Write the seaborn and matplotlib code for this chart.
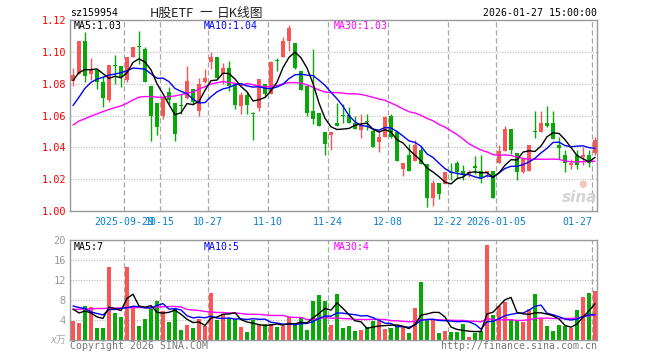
import numpy as np
import pandas as pd
import matplotlib
matplotlib.use("Agg")
import matplotlib.pyplot as plt
import seaborn as sns

sns.set_theme(style="white")
plt.rcParams["font.family"] = ["DejaVu Sans Mono", "Noto Sans CJK SC"]

# ---------------- data ----------------
opens = [1.0815, 1.0860, 1.1065, 1.0860, 1.0885, 1.0808, 1.0700, 1.0917, 1.0908, 1.0825,
         1.0965, 1.1035, 1.1017, 1.0783, 1.0677, 1.0600, 1.0746, 1.0677, 1.0665, 1.0708,
         1.0767, 1.0631, 1.0808, 1.0938, 1.0965, 1.0860, 1.0896, 1.0792, 1.0658, 1.0731,
         1.0615, 1.0648, 1.0798, 1.0735, 1.0946, 1.0965, 1.1069, 1.1058, 1.0881, 1.0783,
         1.0631, 1.0615, 1.0496, 1.0475, 1.0552, 1.0596, 1.0600, 1.0552, 1.0506, 1.0563,
         1.0500, 1.0433, 1.0465, 1.0600, 1.0496, 1.0263, 1.0354, 1.0315, 1.0381, 1.0298,
         1.0079, 1.0179, 1.0169, 1.0248, 1.0304, 1.0252, 1.0235, 1.0277, 1.0252, 1.0240,
         1.0252, 1.0304, 1.0377, 1.0517, 1.0365, 1.0246, 1.0252, 1.0502, 1.0496, 1.0552,
         1.0552, 1.0417, 1.0350, 1.0288, 1.0350, 1.0342, 1.0350, 1.0365]
highs = [1.0898, 1.1067, 1.1127, 1.0960, 1.0888, 1.0850, 1.0917, 1.0980, 1.0908, 1.0965,
         1.1033, 1.1130, 1.1033, 1.0783, 1.0677, 1.0715, 1.0777, 1.0677, 1.0735, 1.0913,
         1.0767, 1.0835, 1.0890, 1.1000, 1.0965, 1.0927, 1.0944, 1.0792, 1.0746, 1.0746,
         1.0621, 1.0827, 1.0798, 1.0944, 1.0960, 1.1096, 1.1169, 1.1058, 1.0881, 1.0783,
         1.1015, 1.0615, 1.0496, 1.0496, 1.0677, 1.0673, 1.0656, 1.0600, 1.0610, 1.0610,
         1.0520, 1.0496, 1.0596, 1.0610, 1.0496, 1.0304, 1.0423, 1.0444, 1.0402, 1.0298,
         1.0194, 1.0179, 1.0248, 1.0304, 1.0313, 1.0288, 1.0260, 1.0346, 1.0350, 1.0252,
         1.0252, 1.0417, 1.0533, 1.0517, 1.0365, 1.0329, 1.0417, 1.0627, 1.0627, 1.0662,
         1.0631, 1.0465, 1.0381, 1.0329, 1.0381, 1.0400, 1.0381, 1.0465]
lows = [1.0788, 1.0858, 1.0808, 1.0823, 1.0767, 1.0652, 1.0683, 1.0798, 1.0777, 1.0810,
        1.0965, 1.0923, 1.0808, 1.0440, 1.0480, 1.0580, 1.0673, 1.0440, 1.0610, 1.0704,
        1.0663, 1.0594, 1.0804, 1.0892, 1.0835, 1.0798, 1.0756, 1.0642, 1.0610, 1.0610,
        1.0448, 1.0627, 1.0715, 1.0735, 1.0881, 1.0965, 1.1006, 1.0892, 1.0763, 1.0596,
        1.0548, 1.0533, 1.0350, 1.0381, 1.0533, 1.0552, 1.0552, 1.0517, 1.0460, 1.0506,
        1.0402, 1.0371, 1.0465, 1.0460, 1.0315, 1.0221, 1.0252, 1.0315, 1.0298, 1.0027,
        1.0033, 1.0073, 1.0169, 1.0194, 1.0198, 1.0194, 1.0215, 1.0235, 1.0179, 1.0215,
        1.0079, 1.0304, 1.0377, 1.0360, 1.0194, 1.0240, 1.0252, 1.0460, 1.0496, 1.0530,
        1.0454, 1.0329, 1.0246, 1.0263, 1.0263, 1.0288, 1.0277, 1.0350]
closes = [1.0856, 1.1065, 1.0846, 1.0888, 1.0808, 1.0708, 1.0917, 1.0912, 1.0840, 1.0965,
          1.1033, 1.1032, 1.0808, 1.0596, 1.0527, 1.0715, 1.0698, 1.0485, 1.0662, 1.0815,
          1.0683, 1.0798, 1.0833, 1.0965, 1.0835, 1.0896, 1.0788, 1.0663, 1.0729, 1.0669,
          1.0607, 1.0827, 1.0735, 1.0938, 1.0940, 1.1065, 1.1148, 1.0898, 1.0763, 1.0617,
          1.0579, 1.0533, 1.0419, 1.0496, 1.0533, 1.0594, 1.0552, 1.0517, 1.0538, 1.0560,
          1.0402, 1.0465, 1.0590, 1.0465, 1.0315, 1.0304, 1.0252, 1.0417, 1.0298, 1.0079,
          1.0179, 1.0104, 1.0248, 1.0240, 1.0246, 1.0229, 1.0244, 1.0273, 1.0208, 1.0252,
          1.0083, 1.0377, 1.0517, 1.0381, 1.0246, 1.0329, 1.0417, 1.0498, 1.0552, 1.0535,
          1.0454, 1.0396, 1.0304, 1.0304, 1.0288, 1.0346, 1.0304, 1.0444]
# 1 = red (up day), 0 = green (down day)
up_flags = [1, 1, 0, 1, 0, 0, 1, 0, 0, 1, 1, 0, 0, 0, 0, 1, 0, 0, 0, 1,
            0, 1, 1, 1, 0, 1, 0, 0, 1, 0, 0, 1, 0, 1, 0, 1, 1, 0, 0, 0,
            0, 0, 0, 1, 0, 0, 0, 0, 1, 0, 0, 1, 1, 0, 0, 1, 0, 1, 0, 0,
            1, 0, 1, 0, 0, 0, 1, 0, 0, 1, 0, 1, 1, 0, 0, 1, 1, 0, 1, 0,
            0, 0, 0, 1, 0, 1, 0, 1]
volumes = [3.9, 3.4, 6.8, 6.6, 2.4, 2.4, 14.6, 5.4, 4.6, 14.6,
           6.6, 2.8, 4.2, 6.2, 7.9, 5.8, 3.6, 6.4, 2.0, 3.0,
           2.4, 4.2, 2.9, 9.5, 4.0, 5.2, 4.4, 4.2, 2.6, 1.6,
           4.0, 3.0, 3.2, 3.2, 2.6, 2.9, 4.6, 3.0, 4.6, 2.0,
           7.9, 9.1, 7.9, 3.0, 9.2, 2.4, 2.8, 1.8, 2.0, 2.6,
           3.8, 3.8, 2.2, 2.4, 2.8, 2.6, 1.4, 6.4, 11.6, 4.0,
           4.2, 1.4, 1.8, 1.6, 1.6, 3.2, 0.6, 1.4, 1.8, 19.0,
           5.0, 6.8, 7.6, 4.2, 4.0, 3.6, 6.2, 9.2, 4.2, 2.8,
           1.8, 3.0, 2.8, 2.4, 6.0, 8.6, 9.4, 9.8]

# moving-average values at the left edge (they depend on days before the window)
ma5_head = [1.0820, 1.0870, 1.0888, 1.0888]
ma10_head = [1.0663, 1.0715, 1.0771, 1.0808, 1.0829, 1.0840, 1.0854, 1.0860, 1.0870]
ma30_head = [1.0540, 1.0565, 1.0580, 1.0596, 1.0610, 1.0625, 1.0638, 1.0650, 1.0660, 1.0677,
             1.0698, 1.0715, 1.0719, 1.0719, 1.0715, 1.0715, 1.0719, 1.0723, 1.0731, 1.0740,
             1.0748, 1.0767, 1.0781, 1.0798, 1.0806, 1.0813, 1.0808, 1.0802, 1.0788]
vma5_head = [6.2, 5.4, 5.8, 5.4]
vma10_head = [6.8, 6.5, 6.3, 5.6, 5.3, 5.0, 6.1, 6.1, 6.3]
vma30_head = [6.1, 6.15, 6.2, 6.25, 6.3, 6.3, 6.35, 6.4, 6.4, 6.45,
              6.45, 6.5, 6.5, 6.55, 6.6, 6.65, 6.7, 6.7, 6.6, 6.1,
              6.0, 5.9, 5.7, 5.6, 5.5, 5.5, 5.4, 5.4, 5.3]

tick_idx = [9, 15, 23, 33, 43, 53, 63, 71, 87]
tick_labels = ["2025-09-29", "10-15", "10-27", "11-10", "11-24",
               "12-08", "12-22", "2026-01-05", "01-27"]
price_ticks = [1.00, 1.02, 1.04, 1.06, 1.08, 1.10, 1.12]
vol_ticks = [4, 8, 12, 16, 20]

# ---------------- derived ----------------
n = len(closes)
idx = np.arange(n)
o = np.array(opens); c = np.array(closes); hi = np.array(highs); lo = np.array(lows)
up = np.array(up_flags).astype(bool)

def moving(vals, win, head):
    m = pd.Series(vals).rolling(win).mean().to_numpy()
    m[:len(head)] = head
    return m

ma5 = moving(closes, 5, ma5_head)
ma10 = moving(closes, 10, ma10_head)
ma30 = moving(closes, 30, ma30_head)
vma5 = moving(volumes, 5, vma5_head)
vma10 = moving(volumes, 10, vma10_head)
vma30 = moving(volumes, 30, vma30_head)

RED = "#fa5555"
GREEN = "#08a808"
GRID = "#a8a8a8"
FRAME = "#999999"

W, H = 660, 360
fig = plt.figure(figsize=(6.6, 3.6), dpi=100)
fig.patch.set_facecolor("white")

def fx(x): return x / W
def fy(y): return 1 - y / H

L, R = 70, 597
axp = fig.add_axes([fx(L), fy(211), (R - L) / W, (211 - 20) / H])
axv = fig.add_axes([fx(L), fy(340), (R - L) / W, (340 - 240) / H])
xlim = (-0.5, (R - L) / 6 - 0.5)
BW = 0.8

FS = 7.1
# ---- price panel ----
axp.set_xlim(*xlim)
axp.set_ylim(1.00, 1.12)
for v in price_ticks[1:-1]:
    axp.axhline(v, color=GRID, lw=0.8, ls=(0, (0.8, 1.6)), zorder=0)
for t_ in tick_idx:
    axp.axvline(t_ - 0.5, color=GRID, lw=0.9, ls=(0, (4.2, 2.2)), zorder=0)

cols = np.where(up, RED, GREEN)
axp.vlines(idx, lo, hi, colors=cols, lw=1.0, zorder=2)
body_lo = np.minimum(o, c)
body_h = np.maximum(np.abs(c - o), 0.0007)
axp.bar(idx, body_h, bottom=body_lo, width=BW, color=cols, zorder=3, linewidth=0)

sns.lineplot(x=idx, y=ma30, color="#ff00ff", lw=1.0, ax=axp, zorder=4, estimator=None)
sns.lineplot(x=idx, y=ma10, color="#0000ff", lw=1.0, ax=axp, zorder=5, estimator=None)
sns.lineplot(x=idx, y=ma5, color="black", lw=1.0, ax=axp, zorder=6, estimator=None)

axp.set_xlim(*xlim)
axp.set_ylim(1.00, 1.12)
axp.set_yticks(price_ticks)
axp.set_yticklabels([f"{v:.2f}" for v in price_ticks], color="#ff0000", fontsize=FS + 0.3)
axp.set_xticks([t_ - 0.5 for t_ in tick_idx])
axp.set_xticklabels(tick_labels, color="#0a7fd0", fontsize=FS)
axp.get_xticklabels()[-1].set_horizontalalignment("right")
axp.tick_params(axis="both", length=0, pad=3)
axp.tick_params(axis="x", pad=4)
axp.set_xlabel(""); axp.set_ylabel("")
for s in axp.spines.values():
    s.set_color(FRAME); s.set_linewidth(1.0)

# ---- volume panel ----
axv.set_xlim(*xlim)
for v in vol_ticks[:-1]:
    axv.axhline(v, color=GRID, lw=0.8, ls=(0, (0.8, 1.6)), zorder=0)
for t_ in tick_idx:
    axv.axvline(t_ - 0.5, color=GRID, lw=0.9, ls=(0, (4.2, 2.2)), zorder=0)
axv.bar(idx, volumes, width=BW, color=cols, zorder=2, linewidth=0)
sns.lineplot(x=idx, y=vma30, color="#ff00ff", lw=1.0, ax=axv, zorder=4, estimator=None)
sns.lineplot(x=idx, y=vma10, color="#0000ff", lw=1.0, ax=axv, zorder=5, estimator=None)
sns.lineplot(x=idx, y=vma5, color="black", lw=1.0, ax=axv, zorder=6, estimator=None)
axv.set_xlim(*xlim)
axv.set_ylim(0, 20)
axv.set_yticks(vol_ticks)
axv.set_yticklabels([str(v) for v in vol_ticks], color="#9a9a9a", fontsize=FS + 0.4)
axv.set_xticks([])
axv.tick_params(axis="both", length=0, pad=3)
axv.set_xlabel(""); axv.set_ylabel("")
for s in axv.spines.values():
    s.set_color(FRAME); s.set_linewidth(1.0)

# ---- texts ----
def t(x, y, s, **kw):
    kw.setdefault("fontsize", FS)
    kw.setdefault("va", "center")
    fig.text(fx(x), fy(y), s, **kw)

t(70, 13, "sz159954", color="black")
t(150, 13, "H股ETF", ha="left", color="#222222", fontsize=9.2,
  family=["Noto Sans CJK SC", "DejaVu Sans Mono"])
t(206, 13, "一", ha="center", color="#222222", fontsize=9.2,
  family=["Noto Sans CJK SC", "DejaVu Sans Mono"])
t(263, 13, "日K线图", ha="right", color="#222222", fontsize=9.2,
  family=["Noto Sans CJK SC", "DejaVu Sans Mono"])
t(597, 13, "2026-01-27 15:00:00", ha="right", color="black")
t(74, 26, "MA5:1.03", color="black")
t(204, 26, "MA10:1.04", color="#0000ff")
t(334, 26, "MA30:1.03", color="#ff00ff")
t(74, 247, "MA5:7", color="black")
t(204, 247, "MA10:5", color="#0000ff")
t(334, 247, "MA30:4", color="#ff00ff")
t(66, 340, "x万", ha="right", color="#aaaaaa", fontsize=FS, style="italic",
  family=["DejaVu Sans Mono", "Noto Sans CJK SC"])
t(70, 346, "Copyright 2026 SINA.COM", color="#777777")
t(597, 346, "http://finance.sina.com.cn", ha="right", color="#777777")
t(580, 197, "sina", ha="center", color="#d4d4d4", fontsize=11, style="italic",
  weight="bold", family=["DejaVu Sans"])
t(583, 184, "●", ha="center", color="#f3c6c6", fontsize=7, family=["DejaVu Sans"])

fig.savefig("out.png", dpi=100)
